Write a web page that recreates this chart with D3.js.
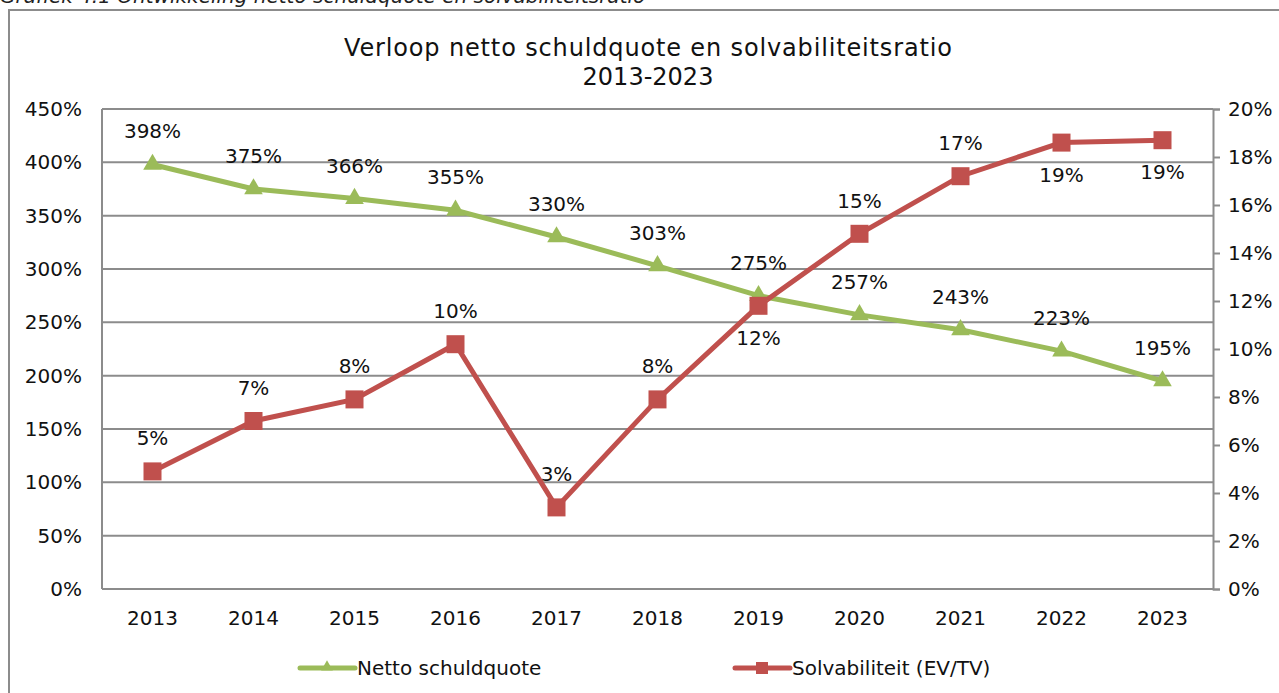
<!DOCTYPE html>
<html>
<head>
<meta charset="utf-8">
<script src="https://cdn.jsdelivr.net/npm/d3@7"></script>
<style>
  body { margin: 0; background: #fff; }
  svg { display: block; font-family: "DejaVu Sans", Verdana, sans-serif; }
</style>
</head>
<body>
<div class="chart"></div>
<script>
let years = ['2013', '2014', '2015', '2016', '2017', '2018', '2019', '2020', '2021', '2022', '2023'];
let schuldquote = [398, 375, 366, 355, 330, 303, 275, 257, 243, 223, 195];
let solvabiliteit = [4.9, 7.0, 7.9, 10.2, 3.4, 7.9, 11.8, 14.8, 17.2, 18.6, 18.7];
let solvLabelBelow = [false, false, false, false, false, false, true, false, false, true, true];
let leftTicks = [0, 50, 100, 150, 200, 250, 300, 350, 400, 450];
let rightTicks = [0, 2, 4, 6, 8, 10, 12, 14, 16, 18, 20];

const W = 1279, H = 693;
const green = '#9bbb59', red = '#c0504d', grid = '#8c8c8c';
const fs = 20;
let margin = {left: 102, right: 66, top: 109, bottom: 104};

let svg = d3.select('.chart').append('svg')
    .attr('width', W).attr('height', H);

// caption above the frame (cut off at the top)
svg.append('text')
    .attr('x', 0).attr('y', 3)
    .attr('font-size', 20).attr('font-style', 'italic')
    .attr('fill', '#222')
    .text('Grafiek 4.1 Ontwikkeling netto schuldquote en solvabiliteitsratio');

// outer frame
svg.append('rect')
    .attr('x', 9).attr('y', 10).attr('width', W + 20).attr('height', H + 20)
    .attr('fill', 'none').attr('stroke', grid).attr('stroke-width', 2);

// title
svg.append('text')
    .attr('x', 648).attr('y', 56).attr('text-anchor', 'middle')
    .attr('font-size', 24).attr('fill', '#111')
    .attr('textLength', 608).attr('lengthAdjust', 'spacing')
    .text('Verloop netto schuldquote en solvabiliteitsratio');
svg.append('text')
    .attr('x', 648).attr('y', 85).attr('text-anchor', 'middle')
    .attr('font-size', 24).attr('fill', '#111')
    .text('2013-2023');

let x = d3.scaleBand().domain(years)
    .range([margin.left, W - margin.right]);
let yL = d3.scaleLinear().domain([0, 450])
    .range([H - margin.bottom, margin.top]);
let yR = d3.scaleLinear().domain([0, 20])
    .range([H - margin.bottom, margin.top]);
let cx = d => x(d) + x.bandwidth() / 2;

// gridlines
svg.append('g').selectAll('line')
    .data(leftTicks).enter().append('line')
    .attr('x1', margin.left).attr('x2', W - margin.right)
    .attr('y1', d => yL(d)).attr('y2', d => yL(d))
    .attr('stroke', grid).attr('stroke-width', 2);

// plot area left border
svg.append('line')
    .attr('x1', margin.left).attr('x2', margin.left)
    .attr('y1', yL(450)).attr('y2', yL(0))
    .attr('stroke', grid).attr('stroke-width', 2);

// left axis labels
svg.append('g').selectAll('text')
    .data(leftTicks).enter().append('text')
    .attr('x', 82).attr('y', d => yL(d) + 7)
    .attr('text-anchor', 'end').attr('font-size', fs).attr('fill', '#111')
    .text(d => d + '%');

// right axis
let rAxis = svg.append('g')
    .attr('transform', `translate(${W - margin.right},0)`)
    .call(d3.axisRight(yR).tickValues(rightTicks).tickSize(7).tickPadding(8)
        .tickFormat(d => d + '%'));
rAxis.select('.domain').attr('stroke', grid).attr('stroke-width', 2);
rAxis.selectAll('.tick line').attr('stroke', grid).attr('stroke-width', 2);
rAxis.selectAll('.tick text')
    .attr('font-size', fs).attr('fill', '#111')
    .attr('font-family', '"DejaVu Sans", Verdana, sans-serif');

// x labels
svg.append('g').selectAll('text')
    .data(years).enter().append('text')
    .attr('x', d => cx(d)).attr('y', 625)
    .attr('text-anchor', 'middle').attr('font-size', fs).attr('fill', '#111')
    .text(d => d);

// lines
let lineL = d3.line().x((d, i) => cx(years[i])).y(d => yL(d));
let lineR = d3.line().x((d, i) => cx(years[i])).y(d => yR(d));

svg.append('path').datum(schuldquote)
    .attr('d', lineL).attr('fill', 'none')
    .attr('stroke', green).attr('stroke-width', 5);
svg.append('path').datum(solvabiliteit)
    .attr('d', lineR).attr('fill', 'none')
    .attr('stroke', red).attr('stroke-width', 5);

// markers
let tri = d3.symbol().type(d3.symbolTriangle).size(150);
svg.append('g').selectAll('path')
    .data(schuldquote).enter().append('path')
    .attr('d', tri)
    .attr('transform', (d, i) => `translate(${cx(years[i])},${yL(d)})`)
    .attr('fill', green);
svg.append('g').selectAll('rect')
    .data(solvabiliteit).enter().append('rect')
    .attr('x', (d, i) => cx(years[i]) - 9).attr('y', d => yR(d) - 9)
    .attr('width', 18).attr('height', 18)
    .attr('fill', red);

// data labels
svg.append('g').selectAll('text')
    .data(schuldquote).enter().append('text')
    .attr('x', (d, i) => cx(years[i])).attr('y', d => yL(d) - 26)
    .attr('text-anchor', 'middle').attr('font-size', fs).attr('fill', '#111')
    .text(d => d + '%');
svg.append('g').selectAll('text')
    .data(solvabiliteit).enter().append('text')
    .attr('x', (d, i) => cx(years[i]))
    .attr('y', (d, i) => solvLabelBelow[i] ? yR(d) + 39 : yR(d) - 26)
    .attr('text-anchor', 'middle').attr('font-size', fs).attr('fill', '#111')
    .text(d => Math.round(d) + '%');

// legend
let legend = [
    {name: 'Netto schuldquote', color: green, x: 300, shape: 'tri'},
    {name: 'Solvabiliteit (EV/TV)', color: red, x: 735, shape: 'sq'}
];
let lg = svg.append('g').selectAll('g')
    .data(legend).enter().append('g')
    .attr('transform', d => `translate(${d.x},668)`);
lg.append('line')
    .attr('x1', 0).attr('x2', 55).attr('y1', 0).attr('y2', 0)
    .attr('stroke', d => d.color).attr('stroke-width', 5)
    .attr('stroke-linecap', 'round');
lg.filter(d => d.shape === 'tri').append('path')
    .attr('d', d3.symbol().type(d3.symbolTriangle).size(60))
    .attr('transform', 'translate(27,-1)')
    .attr('fill', d => d.color);
lg.filter(d => d.shape === 'sq').append('rect')
    .attr('x', 21).attr('y', -6).attr('width', 12).attr('height', 12)
    .attr('fill', d => d.color);
lg.append('text')
    .attr('x', 57).attr('y', 7)
    .attr('font-size', fs).attr('fill', '#111')
    .text(d => d.name);
</script>
</body>
</html>
